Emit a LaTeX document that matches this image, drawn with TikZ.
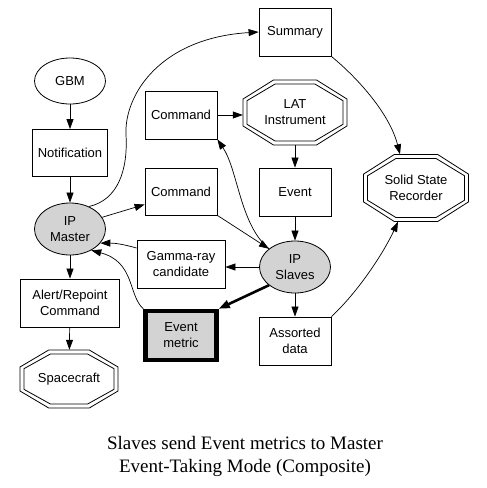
\documentclass[tikz,border=0pt]{standalone}
\usepackage{fontspec}
\setmainfont{Liberation Serif}
\setsansfont{Liberation Sans}
\usetikzlibrary{arrows.meta,shapes.geometric}
\definecolor{lgray}{HTML}{D3D3D3}
\newcommand\octpath[2]{({-(#1)/2},{-(#2)/2+0.293*(#2)}) -- ({-(#1)/2+0.293*(#1)},{-(#2)/2}) -- ({(#1)/2-0.293*(#1)},{-(#2)/2}) -- ({(#1)/2},{-(#2)/2+0.293*(#2)}) -- ({(#1)/2},{(#2)/2-0.293*(#2)}) -- ({(#1)/2-0.293*(#1)},{(#2)/2}) -- ({-(#1)/2+0.293*(#1)},{(#2)/2}) -- ({-(#1)/2},{(#2)/2-0.293*(#2)}) -- cycle}
\newcommand\dbloct[6]{%
  \node[minimum width=#4pt, minimum height=#5pt] (#1) at (#2,#3) {#6};
  \draw[octline, shift={(#2,#3)}] \octpath{#4}{#5};
  \draw[octline, shift={(#2,#3)}] \octpath{#4-8}{#5-8};
}
\begin{document}
\begin{tikzpicture}[x=1pt,y=-1pt,
  every node/.style={font=\sffamily\fontsize{13}{16}\selectfont, align=center, inner sep=0pt},
  box/.style={draw, line width=0.8pt, rectangle, minimum width=72pt, minimum height=48pt},
  ell/.style={draw, line width=0.8pt, ellipse, minimum width=71pt, minimum height=52pt},
  octline/.style={line width=0.8pt},
  edge/.style={-{Triangle[length=10pt,width=7pt]}, line width=0.7pt},
  thickedge/.style={-{Triangle[length=11pt,width=8pt]}, line width=2.6pt}
]
\useasboundingbox (0,0) rectangle (487,488);
% nodes
\node[ell, minimum height=46pt] (gbm) at (70,81) {GBM};
\node[box, minimum width=75pt, minimum height=47pt] (notif) at (70,153) {Notification};
\node[ell, fill=lgray] (master) at (70,229) {IP\\Master};
\node[box, minimum width=99pt] (alert) at (70,303) {Alert/Repoint\\Command};
\dbloct{sc}{69}{379}{98}{58}{Spacecraft}
\node[box] (cmd1) at (181,115) {Command};
\node[box, minimum height=47pt] (cmd2) at (181,191.5) {Command};
\node[box, minimum width=88pt] (gamma) at (181,264) {Gamma-ray\\candidate};
\node[box, fill=lgray, line width=4.5pt, minimum width=71pt, minimum height=49pt] (emetric) at (181,335.5) {Event\\metric};
\node[box] (summary) at (295,32) {Summary};
\dbloct{lat}{295}{112.5}{104}{65}{LAT\\Instrument}
\node[box] (event) at (295,192) {Event};
\node[ell, fill=lgray] (slaves) at (295,267) {IP\\Slaves};
\node[box] (assorted) at (295,341) {Assorted\\data};
\dbloct{ssr}{416}{188}{105}{67}{Solid State\\Recorder}
% edges
\draw[edge] (gbm) -- (notif);
\draw[edge] (notif) -- (master);
\draw[edge] (master) -- (alert);
\draw[edge] (alert) -- (sc);
\draw[edge] (master.50) .. controls (118,200) and (128,170) .. (126,135) .. controls (124,95) and (160,38) .. (summary.west);
\draw[edge] (master.20) -- ([yshift=-13pt]cmd2.west);
\draw[edge] (cmd2.south east) -- (slaves.145);
\draw[edge] (slaves.145) .. controls (240,225) and (238,170) .. (cmd1.south east);
\draw[edge] (cmd1.east) -- (cmd1.east -| lat.west);
\draw[edge] (lat) -- (event);
\draw[edge] (event) -- (slaves);
\draw[edge] (slaves.west) -- (slaves.west -| gamma.east);
\draw[edge] ([yshift=16pt]gamma.west) to[bend right=8] (master.-25);
\draw[edge] (emetric.north west) .. controls (128,295) and (135,262) .. (master.-45);
\draw[thickedge] (slaves.215) -- (emetric.north east);
\draw[edge] (slaves) -- (assorted);
\draw[edge] (assorted.north east) .. controls (360,290) and (385,250) .. ([xshift=-18pt]ssr.south);
\draw[edge] (summary.south east) .. controls (360,80) and (390,115) .. ([xshift=-16pt]ssr.north);
% caption
\node[font=\rmfamily\fontsize{19}{23}\selectfont] (cap) at (245,456) {Slaves send Event metrics to Master\\Event-Taking Mode (Composite)};
\end{tikzpicture}
\end{document}
